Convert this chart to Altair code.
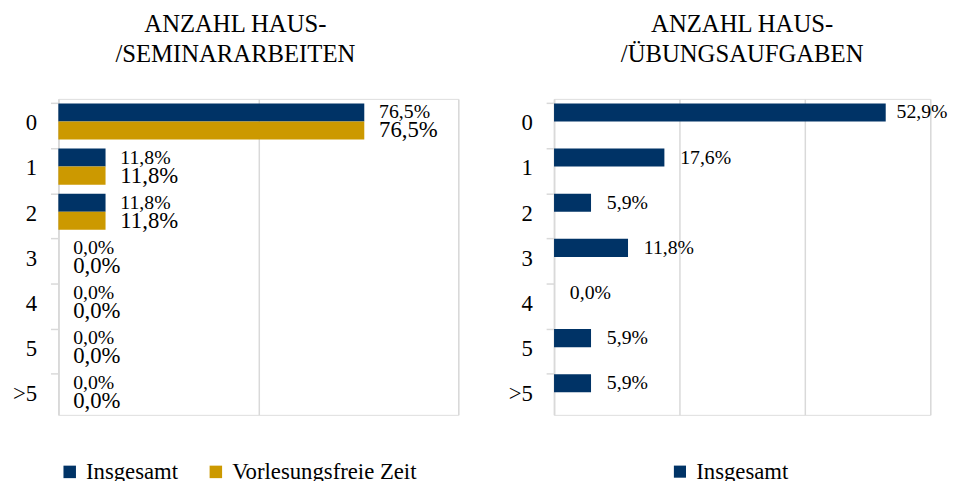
import altair as alt
import pandas as pd

categories = ["0", "1", "2", "3", "4", "5", ">5"]
series = ["Insgesamt", "Vorlesungsfreie Zeit"]
colors = ["#003366", "#CC9900"]

left_title = ["ANZAHL HAUS-", "/SEMINARARBEITEN"]
left_insgesamt = [76.5, 11.8, 11.8, 0.0, 0.0, 0.0, 0.0]
left_vorlesungsfrei = [76.5, 11.8, 11.8, 0.0, 0.0, 0.0, 0.0]

right_title = ["ANZAHL HAUS-", "/ÜBUNGSAUFGABEN"]
right_insgesamt = [52.9, 17.6, 5.9, 11.8, 0.0, 5.9, 5.9]

FONT = "Liberation Serif"


def fmt(v):
    return f"{v:.1f}%".replace(".", ",")


rows = []
for c, a, b in zip(categories, left_insgesamt, left_vorlesungsfrei):
    rows.append({"Kategorie": c, "Serie": series[0], "Wert": a, "Label": fmt(a)})
    rows.append({"Kategorie": c, "Serie": series[1], "Wert": b, "Label": fmt(b)})
df_left = pd.DataFrame(rows)

df_right = pd.DataFrame({
    "Kategorie": categories,
    "Serie": series[0],
    "Wert": right_insgesamt,
    "Label": [fmt(v) for v in right_insgesamt],
})

y_axis = alt.Axis(
    title=None, labelFont=FONT, labelFontSize=23, labelColor="black",
    domainColor="#d9d9d9", domainWidth=1.5, tickColor="#d9d9d9", tickWidth=1.5,
    tickSize=8, labelPadding=14, bandPosition=0, labelOffset=2, grid=False,
)


def make_x(domain, values):
    return alt.X(
        "Wert:Q",
        scale=alt.Scale(domain=domain, nice=False),
        axis=alt.Axis(values=values, labels=False, ticks=False, domain=False,
                      grid=True, gridColor="#d9d9d9", gridWidth=1.5, title=None),
    )


def make_y():
    return alt.Y("Kategorie:N", sort=categories,
                 scale=alt.Scale(domain=categories, paddingInner=0.2, paddingOuter=0.1),
                 axis=y_axis)


y_off = alt.YOffset("Serie:N", sort=series, scale=alt.Scale(domain=series))

# ---------- left panel ----------
lx = make_x([0, 100], [0, 50, 100])
left_base = alt.Chart(df_left)
left_bars = left_base.mark_bar().encode(
    y=make_y(), x=lx, yOffset=y_off,
    color=alt.Color("Serie:N", sort=series,
                    scale=alt.Scale(domain=series, range=colors),
                    legend=alt.Legend(
                        orient="none", legendX=0, legendY=366, direction="horizontal",
                        title=None, symbolType="square", symbolSize=160,
                        symbolStrokeWidth=0, labelFont=FONT, labelFontSize=23,
                        labelColor="black", columnPadding=26, labelOffset=5,
                        labelLimit=0)),
)
left_text_a = left_base.transform_filter(alt.datum.Serie == series[0]).mark_text(
    align="left", baseline="middle", dx=15, font=FONT, fontSize=20, color="black"
).encode(y=make_y(), x=lx, yOffset=y_off, text="Label:N")
left_text_b = left_base.transform_filter(alt.datum.Serie == series[1]).mark_text(
    align="left", baseline="middle", dx=15, font=FONT, fontSize=23, color="black"
).encode(y=make_y(), x=lx, yOffset=y_off, text="Label:N")

left = alt.layer(left_bars, left_text_a, left_text_b).properties(
    width=405, height=320,
    title=alt.TitleParams(text=left_title, font=FONT, fontSize=25, fontWeight="normal",
                          color="black", lineHeight=31, offset=32, frame="bounds",
                          anchor="middle"),
)

# ---------- right panel ----------
rx = make_x([0, 60], [0, 20, 40, 60])
right_base = alt.Chart(df_right)
right_bars = right_base.mark_bar().encode(
    y=make_y(), x=rx, yOffset=y_off,
    color=alt.Color("Serie:N",
                    scale=alt.Scale(domain=[series[0]], range=[colors[0]]),
                    legend=alt.Legend(
                        orient="none", legendX=116, legendY=366, direction="horizontal",
                        title=None, symbolType="square", symbolSize=150,
                        symbolStrokeWidth=0, labelFont=FONT, labelFontSize=23,
                        labelColor="black", labelOffset=5, labelLimit=0)),
)
right_text_small = right_base.transform_filter(alt.datum.Wert < 50).mark_text(
    align="left", baseline="middle", dx=16, font=FONT, fontSize=20, color="black"
).encode(y=make_y(), x=rx, yOffset=y_off, text="Label:N")
right_text_big = right_base.transform_filter(alt.datum.Wert >= 50).mark_text(
    align="left", baseline="middle", dx=11, font=FONT, fontSize=20, color="black"
).encode(y=make_y(), x=rx, yOffset=y_off, text="Label:N")

right = alt.layer(right_bars, right_text_small, right_text_big).properties(
    width=381, height=320,
    title=alt.TitleParams(text=right_title, font=FONT, fontSize=25, fontWeight="normal",
                          color="black", lineHeight=31, offset=32, frame="group",
                          anchor="middle"),
)

chart = alt.hconcat(left, right, spacing=49).resolve_scale(
    color="independent", x="independent", y="independent", yOffset="independent"
).resolve_legend(color="independent").properties(
    padding={"left": 4, "top": 0, "right": 0, "bottom": 0},
).configure_view(stroke=None).configure(background="white")

chart.save("out.html", embed_options={"renderer": "svg", "actions": False})
